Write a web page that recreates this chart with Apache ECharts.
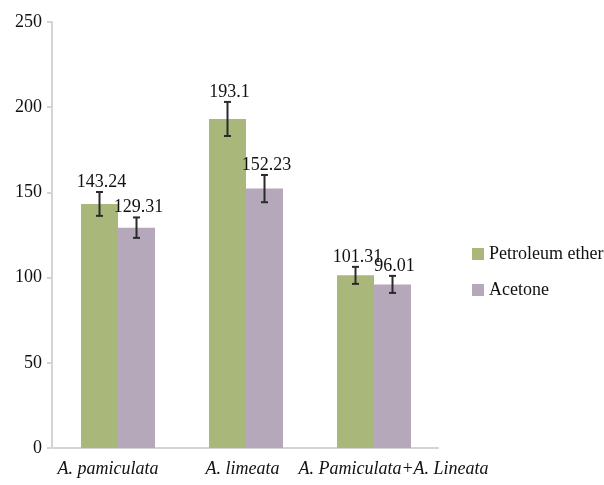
<!DOCTYPE html>
<html>
<head>
<meta charset="utf-8">
<script src="https://cdn.jsdelivr.net/npm/echarts@6/dist/echarts.min.js"></script>
<style>
html, body { margin: 0; padding: 0; background: #fff; }
#main { width: 604px; height: 485px; }
</style>
</head>
<body>
<div id="main"></div>
<script>
var categories = ['A. pamiculata', 'A. limeata', 'A. Pamiculata+A. Lineata'];
var seriesNames = ['Petroleum ether', 'Acetone'];
var petroleum = [143.24, 193.1, 101.31];
var acetone = [129.31, 152.23, 96.01];
var petroleumErr = [7, 10, 5];
var acetoneErr = [6, 8, 5];
var labels = [['143.24', '193.1', '101.31'], ['129.31', '152.23', '96.01']];

var colors = ['#a9b77b', '#b5a8ba'];
var serif = '"Liberation Serif", "DejaVu Serif", serif';
var barW = 37;

// error bars + value labels, drawn at each bar's position
var errData = [];
petroleum.forEach(function (v, i) { errData.push([i, v, petroleumErr[i], 0]); });
acetone.forEach(function (v, i) { errData.push([i, v, acetoneErr[i], 1]); });

function renderErr(params, api) {
    var ci = api.value(0), v = api.value(1), e = api.value(2), si = api.value(3);
    var shift = si === 0 ? -barW / 2 : barW / 2;
    var top = api.coord([ci, v + e]);
    var bot = api.coord([ci, v - e]);
    var x = top[0] + shift;
    var cap = 3.5;
    var st = { stroke: '#2a2a2a', lineWidth: 2 };
    return {
        type: 'group',
        children: [
            { type: 'line', shape: { x1: x, y1: top[1], x2: x, y2: bot[1] }, style: st },
            { type: 'line', shape: { x1: x - cap, y1: top[1], x2: x + cap, y2: top[1] }, style: st },
            { type: 'line', shape: { x1: x - cap, y1: bot[1], x2: x + cap, y2: bot[1] }, style: st },
            {
                type: 'text',
                style: {
                    text: labels[si][ci],
                    x: x + 2,
                    y: top[1] - 1,
                    align: 'center',
                    verticalAlign: 'bottom',
                    font: '18px ' + serif,
                    fill: '#111'
                }
            }
        ]
    };
}

var xLabelStyle = { fontFamily: serif, fontStyle: 'italic', fontSize: 18, color: '#111' };

var myChart = echarts.init(document.getElementById('main'));
var option = {
    animation: false,
    color: colors,
    grid: { left: 54, right: 166, top: 22, bottom: 37 },
    legend: {
        orient: 'vertical',
        left: 467,
        top: 240,
        itemWidth: 12,
        itemHeight: 12,
        itemGap: 18,
        icon: 'rect',
        data: seriesNames,
        textStyle: { fontFamily: serif, fontSize: 18, color: '#111' }
    },
    xAxis: {
        type: 'category',
        data: categories,
        axisLine: { lineStyle: { color: '#d4d4d4', width: 2 } },
        axisTick: { length: 6, lineStyle: { color: '#d4d4d4', width: 2 } },
        axisLabel: {
            margin: 12, interval: 0,
            formatter: function (v, i) {
                if (i === 0) return '{l|' + v + '}';
                if (i === 2) return '{r|' + v + '}';
                return '{m|' + v + '}';
            },
            rich: {
                l: Object.assign({ padding: [0, 20, 0, 0] }, xLabelStyle),
                m: Object.assign({ padding: [0, 7, 0, 0] }, xLabelStyle),
                r: Object.assign({ padding: [0, 0, 0, 39] }, xLabelStyle)
            }
        }
    },
    yAxis: {
        type: 'value',
        min: 0,
        max: 250,
        interval: 50,
        offset: 2,
        axisLine: { show: true, lineStyle: { color: '#d4d4d4', width: 2 } },
        axisTick: { show: true, length: 5, lineStyle: { color: '#d4d4d4', width: 2 } },
        splitLine: { show: false },
        axisLabel: { fontFamily: serif, fontSize: 18, color: '#111', margin: 10 }
    },
    series: [
        { name: seriesNames[0], type: 'bar', data: petroleum, barWidth: barW, barGap: '0%' },
        { name: seriesNames[1], type: 'bar', data: acetone, barWidth: barW, barGap: '0%' },
        { type: 'custom', renderItem: renderErr, data: errData, z: 5, silent: true }
    ]
};
myChart.setOption(option);
</script>
</body>
</html>
